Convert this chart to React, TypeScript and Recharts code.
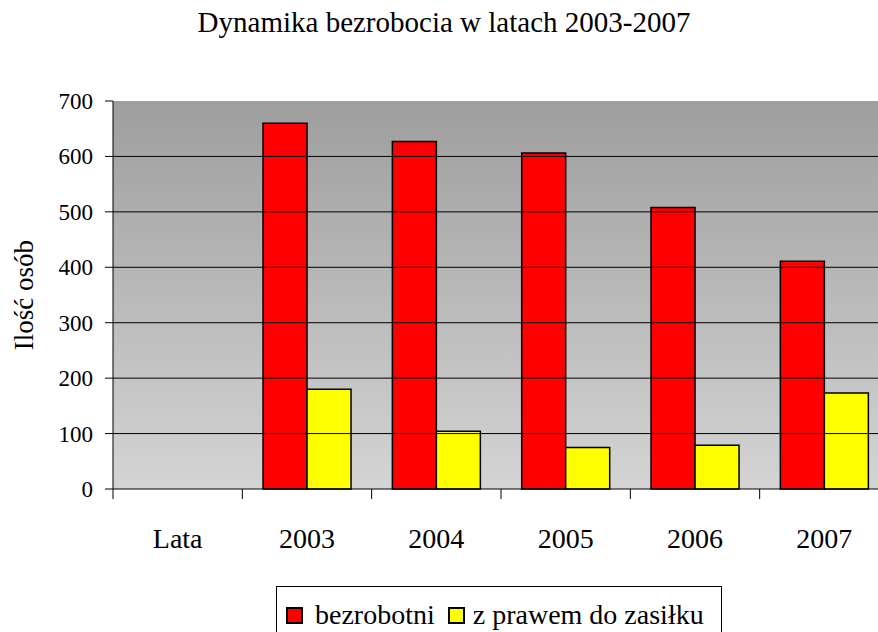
import { BarChart, Bar, XAxis, YAxis, CartesianGrid, ReferenceLine } from 'recharts'

const years = ['Lata', '2003', '2004', '2005', '2006', '2007']
const unemployed = [null, 660, 627, 606, 508, 411]
const withBenefit = [null, 180, 104, 75, 79, 173]
const yTicks = [0, 100, 200, 300, 400, 500, 600, 700]
const gridValues = [100, 200, 300, 400, 500, 600]

const SERIES = [
  { key: 'bezrobotni', name: 'bezrobotni', color: '#FF0000' },
  { key: 'zasilek', name: 'z prawem do zasiłku', color: '#FFFF00' },
]

const data = years.map((year, i) => ({
  year,
  bezrobotni: unemployed[i],
  zasilek: withBenefit[i],
}))

const FONT = 'Liberation Serif'
const CHART_W = 889
const CHART_H = 632
const LEFT = 113
const TOP = 101
const BOTTOM = 143
const PLOT_H = CHART_H - TOP - BOTTOM
const BAND = (CHART_W - LEFT) / years.length

function YearTick({ x, payload }: any) {
  const axisY = TOP + PLOT_H
  const left = x - BAND / 2
  return (
    <g>
      <line x1={left} y1={axisY} x2={left} y2={axisY + 10} stroke="#000" strokeWidth={1} />
      <text x={x} y={axisY + 59} textAnchor="middle" fontFamily={FONT} fontSize={28} fill="#000">
        {payload.value}
      </text>
    </g>
  )
}

function ValueTick({ x, y, payload }: any) {
  return (
    <text x={x} y={y + 8} textAnchor="end" fontFamily={FONT} fontSize={23} fill="#000">
      {payload.value}
    </text>
  )
}

function YLabel() {
  const cy = TOP + PLOT_H / 2
  return (
    <text
      x={33}
      y={cy}
      transform={`rotate(-90, 33, ${cy})`}
      textAnchor="middle"
      fontFamily={FONT}
      fontSize={27}
      fill="#000"
    >
      Ilość osób
    </text>
  )
}

export default function App() {
  return (
    <div
      style={{
        position: 'fixed',
        left: 0,
        top: 0,
        width: 878,
        height: 632,
        overflow: 'hidden',
        background: '#fff',
        fontFamily: FONT,
      }}
    >
      <div
        style={{
          position: 'absolute',
          left: 0,
          width: 888,
          top: 8,
          textAlign: 'center',
          fontFamily: FONT,
          fontSize: 29,
          lineHeight: 1,
          color: '#000',
        }}
      >
        Dynamika bezrobocia w latach 2003-2007
      </div>

      <BarChart
        width={CHART_W}
        height={CHART_H}
        data={data}
        margin={{ top: TOP, right: 0, left: 0, bottom: 0 }}
        barCategoryGap="16%"
        barGap={0}
        style={{ fontFamily: FONT }}
      >
        <defs>
          <linearGradient id="plotBg" x1="0" y1="0" x2="0" y2="1">
            <stop offset="0%" stopColor="#9e9e9e" />
            <stop offset="100%" stopColor="#d4d4d4" />
          </linearGradient>
        </defs>
        <CartesianGrid horizontal={false} vertical={false} fill="url(#plotBg)" />
        {gridValues.map((v) => (
          <ReferenceLine key={v} y={v} stroke="#000" strokeWidth={1} />
        ))}
        <XAxis
          dataKey="year"
          height={BOTTOM}
          axisLine={{ stroke: '#000' }}
          tickLine={false}
          tick={<YearTick />}
          interval={0}
        />
        <YAxis
          width={LEFT}
          domain={[0, 700]}
          ticks={yTicks}
          interval={0}
          axisLine={{ stroke: '#000' }}
          tickLine={{ stroke: '#000' }}
          tickSize={8}
          tickMargin={12}
          tick={<ValueTick />}
          label={<YLabel />}
        />
        {SERIES.map((s) => (
          <Bar
            key={s.key}
            dataKey={s.key}
            name={s.name}
            fill={s.color}
            stroke="#000"
            strokeWidth={1.5}
            isAnimationActive={false}
          />
        ))}
      </BarChart>

      <div
        style={{
          position: 'absolute',
          left: 276,
          top: 586,
          width: 446,
          height: 50,
          border: '1px solid #000',
          boxSizing: 'border-box',
          display: 'flex',
          alignItems: 'flex-start',
          paddingLeft: 9,
          paddingTop: 14,
          fontFamily: FONT,
          fontSize: 28,
          lineHeight: 1,
          color: '#000',
          background: '#fff',
          whiteSpace: 'nowrap',
        }}
      >
        {SERIES.map((s, i) => (
          <div key={s.key} style={{ display: 'flex', alignItems: 'center', marginLeft: i === 0 ? 0 : 13 }}>
            <span
              style={{
                display: 'inline-block',
                width: 17,
                height: 17,
                background: s.color,
                border: '2px solid #000',
                boxSizing: 'border-box',
                marginRight: i === 0 ? 12 : 8,
              }}
            />
            <span>{s.name}</span>
          </div>
        ))}
      </div>
    </div>
  )
}
